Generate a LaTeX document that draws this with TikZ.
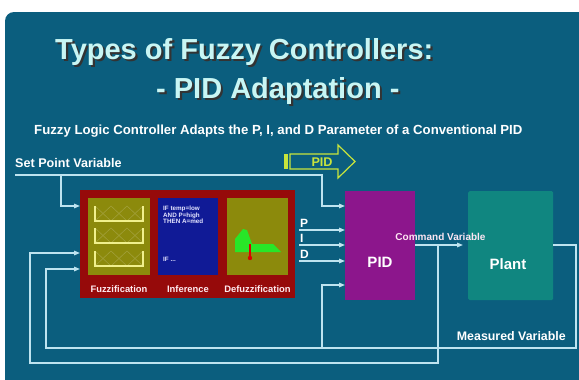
\documentclass[tikz,border=0pt]{standalone}
\usepackage{fontspec}
\setmainfont{Liberation Sans}
\usetikzlibrary{arrows.meta,calc}
\definecolor{slidebg}{RGB}{11,94,126}
\definecolor{wirec}{RGB}{190,228,240}
\definecolor{titlec}{RGB}{200,246,244}
\definecolor{fzred}{RGB}{150,10,10}
\definecolor{fzolive}{RGB}{140,138,12}
\definecolor{infblue}{RGB}{16,26,150}
\definecolor{pidpurple}{RGB}{140,22,140}
\definecolor{plantteal}{RGB}{16,134,128}
\definecolor{pidarrow}{RGB}{200,228,60}
\definecolor{ushape}{RGB}{240,240,140}
\definecolor{defgreen}{RGB}{40,230,40}
\definecolor{labelc}{RGB}{255,235,240}
\newcommand\myfs[1]{\fontsize{#1}{#1}\selectfont\bfseries}
% title text with a dark drop shadow behind it
\newcommand\shadowed[1]{\makebox[0pt][l]{\hspace{2.2pt}\raisebox{-2.2pt}{\color{black!80}#1}}#1}
\begin{document}
\begin{tikzpicture}[x=1pt,y=-1pt,
  wire/.style={draw=wirec,line width=1.4pt},
  arr/.style={wire,-{Triangle[length=6pt,width=4.5pt]}},
  blk/.style={draw=none,inner sep=0pt,anchor=north west},
  txt/.style={inner sep=0pt,text=white},
  ttl/.style={inner sep=0pt,anchor=base west,text=titlec,font=\myfs{29}},
  boxcap/.style={inner sep=0pt,text=labelc,font=\myfs{9.4},anchor=base}]
\useasboundingbox (0,0) rectangle (579,380);
% slide background
\fill[white] (0,0) rectangle (579,380);
\fill[slidebg] (5,380) -- (5,21) to[out=90,in=180] (14,12) -- (579,12) -- (579,380) -- cycle;

% title
\node[ttl] (title1) at (55,59) {\shadowed{Types of Fuzzy Controllers:}};
\node[ttl] (title2) at (156,98) {\shadowed{- PID Adaptation -}};
\node[txt,anchor=base west,font=\myfs{13.2}] (subtitle) at (34,134)
  {Fuzzy Logic Controller Adapts the P, I, and D Parameter of a Conventional PID};

% fuzzy logic controller
\node[blk,fill=fzred,minimum width=215pt,minimum height=108pt] (flc) at (80,190) {};
\node[blk,fill=fzolive,minimum width=62pt,minimum height=77pt] (fuzz) at (88,198) {};
\node[blk,fill=infblue,minimum width=60pt,minimum height=77pt] (infer) at (158,198) {};
\node[blk,fill=fzolive,minimum width=61pt,minimum height=77pt] (defuzz) at (227,198) {};

% fuzzification: membership sets
\foreach \t in {206,228,251}{
  \draw[fzolive!55!white,line width=0.6pt,opacity=0.4]
    (95,\t+15) -- (111,\t) -- (127,\t+15) -- (143,\t)
    (95,\t) -- (111,\t+15) -- (127,\t) -- (143,\t+15);
  \draw[ushape,line width=1.2pt] (95,\t) -- (95,\t+15) -- (143,\t+15) -- (143,\t);
}
% inference rules
\node[txt,anchor=north west,align=left,font=\myfs{6.3},text=white!90!blue] (rules) at (163,206)
  {\baselineskip=8.6pt IF temp=low\\AND P=high\\THEN A=med};
\node[txt,anchor=base west,font=\myfs{6.3},text=white!90!blue] (rulesmore) at (163,261) {IF ...};
% defuzzification: output set and centroid
\fill[defgreen] (235,252) -- (235,239) -- (243,229) -- (247,230) -- (252,244) -- (273,244) -- (281,252) -- cycle;
\draw[red!85!black,line width=1.2pt] (250,244) -- (250,258);
\fill[red!85!black] (250,258) circle (2.2);

\node[boxcap] (fzlbl) at (119,292) {Fuzzification};
\node[boxcap] (inflbl) at (188,292) {Inference};
\node[boxcap] (deflbl) at (257.5,292) {Defuzzification};

% PID controller and plant
\node[blk,fill=pidpurple,minimum width=70pt,minimum height=109pt] (pid) at (345,191) {};
\node[txt,font=\myfs{15}] (pidtxt) at (380,262) {PID};
\node[blk,fill=plantteal,minimum width=85pt,minimum height=109pt,rounded corners=1.5pt] (plant) at (468,191) {};
\node[txt,font=\myfs{15}] (planttxt) at (508,264) {Plant};

% parameter transfer arrow
\fill[pidarrow] (284,154) rectangle (287.5,169);
\draw[pidarrow,line width=1.2pt,line join=miter] (290,154) -- (338,154) -- (338,145) -- (355,161.5) -- (338,178) -- (338,169) -- (290,169) -- cycle;
\node[inner sep=0pt,text=pidarrow,font=\myfs{12.6}] (pidxfer) at (322,162) {PID};

% set point
\node[txt,anchor=base west,font=\myfs{12.6}] (splbl) at (15,167) {Set Point Variable};
\coordinate (spA) at (15,175);
\coordinate (spB) at (322,206);
\coordinate (spBr) at (61,175);
\coordinate (spFz) at (61,206);
\draw[arr] (spA) -| (spB) -- (spB -| pid.west);
\draw[arr] (spBr) -- (spFz) -- (spFz -| flc.west);

% P, I, D parameters
\foreach \yy/\nm in {230/P,245/I,261/D}{
  \coordinate (par\nm) at (299,\yy);
  \draw[arr] (par\nm) -- (par\nm -| pid.west);
  \node[txt,anchor=base west,font=\myfs{12}] (lbl\nm) at (300,\yy-3) {\nm};
}

% command variable
\coordinate (cmd) at (438,245);
\draw[arr,shorten >=5pt] (pid.east |- cmd) -- (plant.west |- cmd);
\node[txt,anchor=base,font=\myfs{10},text=white!90!magenta] (cmdlbl) at (440.5,240) {Command Variable};
\coordinate (cmdB) at (30,363);
\coordinate (cmdC) at (30,253);
\draw[arr] (cmd) |- (cmdB) -- (cmdC) -- (cmdC -| flc.west);

% measured variable
\coordinate (msA) at (576,245);
\coordinate (msB) at (46,348);
\coordinate (msC) at (46,269);
\coordinate (msPid) at (322,348);
\coordinate (msPidIn) at (322,285);
\draw[arr] (plant.east |- msA) -- (msA) |- (msB) -- (msC) -- (msC -| flc.west);
\draw[arr] (msPid) -- (msPidIn) -- (msPidIn -| pid.west);
\node[txt,anchor=base east,font=\myfs{12.4}] (mslbl) at (566,340) {Measured Variable};
\end{tikzpicture}
\end{document}
